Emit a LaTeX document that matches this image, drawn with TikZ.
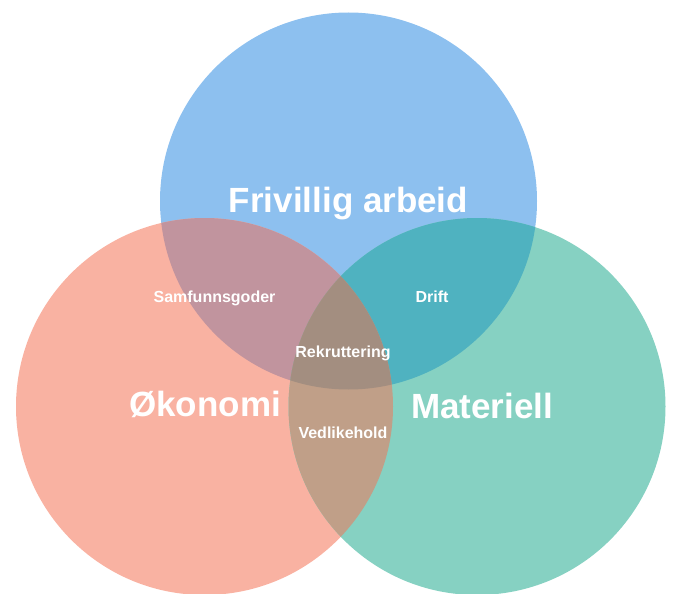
\documentclass[tikz,border=0pt]{standalone}
\usepackage{fontspec}
\setmainfont{Liberation Sans}
\definecolor{cBlue}{HTML}{8DC0EF}
\definecolor{cSalmon}{HTML}{F9B2A2}
\definecolor{cTeal}{HTML}{86D1C2}
\definecolor{cBS}{HTML}{C1949E}
\definecolor{cBT}{HTML}{4FB2C0}
\definecolor{cST}{HTML}{C09F88}
\definecolor{cAll}{HTML}{A38E80}
\tikzset{
  big/.style={text=white,font=\bfseries\fontsize{35}{40}\selectfont,anchor=base,inner sep=0pt},
  small/.style={text=white,font=\bfseries\fontsize{16}{19}\selectfont,anchor=base,inner sep=0pt}
}
\begin{document}
\begin{tikzpicture}[x=1pt,y=-1pt]
\useasboundingbox (0,0) rectangle (675,594);
\def\topc{(348.5,201)}
\def\leftc{(204.5,406.5)}
\def\rightc{(477,406.5)}
\def\R{188.5}
% base circles
\fill[cBlue] \topc circle (\R);
\fill[cSalmon] \leftc circle (\R);
\fill[cTeal] \rightc circle (\R);
% pairwise overlaps
\begin{scope}
  \clip \topc circle (\R);
  \fill[cBS] \leftc circle (\R);
  \fill[cBT] \rightc circle (\R);
\end{scope}
\begin{scope}
  \clip \leftc circle (\R);
  \fill[cST] \rightc circle (\R);
\end{scope}
% triple overlap
\begin{scope}
  \clip \topc circle (\R);
  \clip \leftc circle (\R);
  \fill[cAll] \rightc circle (\R);
\end{scope}
% labels
\node[big] (fa) at (348.5,212) {Frivillig arbeid};
\node[big] (ok) at (205,416) {Økonomi};
\node[big] (ma) at (482,418) {Materiell};
\node[small] (sa) at (214.5,302) {Samfunnsgoder};
\node[small] (dr) at (432,302) {Drift};
\node[small] (re) at (343,357) {Rekruttering};
\node[small] (ve) at (343,438) {Vedlikehold};
\end{tikzpicture}
\end{document}
